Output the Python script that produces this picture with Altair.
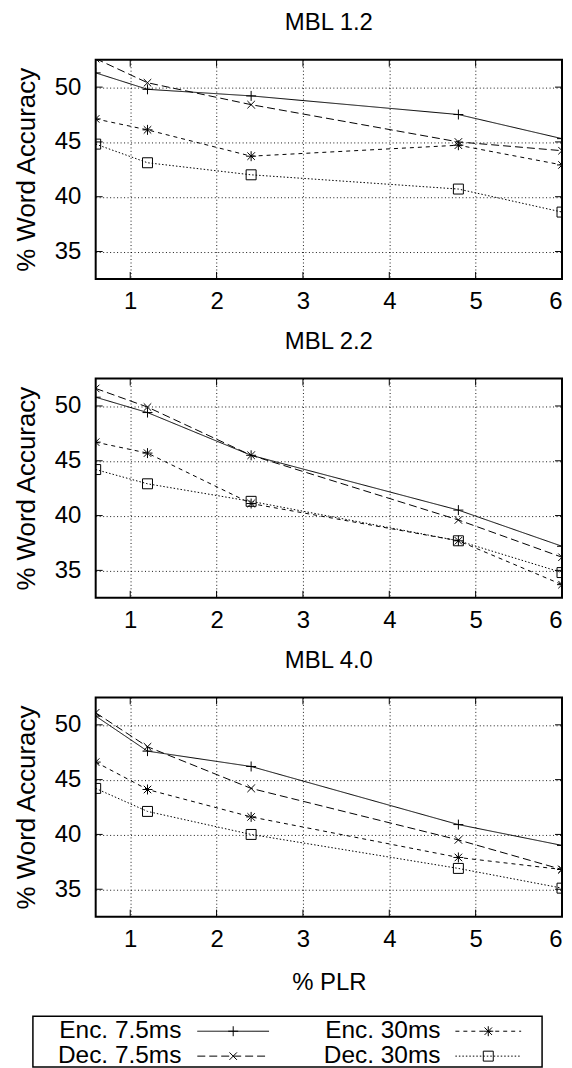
import altair as alt
import pandas as pd

# ---------------- data ----------------
plr = [0.6, 1.2, 2.4, 4.8, 6.0]
series_names = ["Enc. 7.5ms", "Dec. 7.5ms", "Enc. 30ms", "Dec. 30ms"]

mbl12_enc75 = [51.3, 49.8, 49.2, 47.5, 45.3]
mbl12_dec75 = [52.6, 50.4, 48.4, 45.0, 44.2]
mbl12_enc30 = [47.1, 46.1, 43.7, 44.7, 42.9]
mbl12_dec30 = [44.8, 43.1, 42.0, 40.7, 38.6]

mbl22_enc75 = [50.8, 49.4, 45.5, 40.5, 37.2]
mbl22_dec75 = [51.6, 49.9, 45.5, 39.6, 36.2]
mbl22_enc30 = [46.7, 45.7, 41.1, 37.7, 33.7]
mbl22_dec30 = [44.2, 42.9, 41.3, 37.7, 34.8]

mbl40_enc75 = [50.8, 47.6, 46.2, 40.9, 39.0]
mbl40_dec75 = [51.1, 48.0, 44.2, 39.5, 36.8]
mbl40_enc30 = [46.6, 44.1, 41.6, 37.9, 36.8]
mbl40_dec30 = [44.2, 42.1, 40.0, 36.9, 35.1]

panel_titles = ["MBL 1.2", "MBL 2.2", "MBL 4.0"]
x_ticks = [1, 2, 3, 4, 5, 6]
y_ticks = [35, 40, 45, 50]
x_domain = [0.6, 6.0]
y_domain = [32.5, 52.5]

# ---------------- styles ----------------
FONT = "Liberation Sans"
FS = 24
W, H = 468, 220
dashes = [[1, 0], [8, 4], [4, 4], [1.5, 2]]
plus_path = "M-1,0L1,0M0,-1L0,1"
x_path = "M-0.75,-0.75L0.75,0.75M-0.75,0.75L0.75,-0.75"
star_path = "M-1,0L1,0M0,-1L0,1M-0.75,-0.75L0.75,0.75M-0.75,0.75L0.75,-0.75"
shapes = [plus_path, x_path, star_path, "square"]
TICK = 7


def panel(title, vals, show_xtitle):
    rows = []
    for s, arr in zip(series_names, vals):
        for x, v in zip(plr, arr):
            rows.append({"plr": x, "acc": v, "series": s})
    df = pd.DataFrame(rows)

    xs = alt.Scale(domain=x_domain, nice=False, zero=False)
    ys = alt.Scale(domain=y_domain, nice=False, zero=False)
    x_axis = alt.Axis(values=x_ticks, format="d", labelPadding=11, labelFlush=True,
                      title="% PLR" if show_xtitle else None, titlePadding=19)
    y_axis = alt.Axis(values=y_ticks, labelPadding=15, labelFlush=False,
                      title="% Word Accuracy", titlePadding=15, titleFontSize=26)
    x_enc = alt.X("plr:Q", scale=xs, axis=x_axis)
    y_enc = alt.Y("acc:Q", scale=ys, axis=y_axis)

    base = alt.Chart(df)
    lines = base.mark_line(color="black", strokeWidth=1, clip=True).encode(
        x=x_enc, y=y_enc,
        strokeDash=alt.StrokeDash("series:N", scale=alt.Scale(domain=series_names, range=dashes), legend=None),
    )
    points = base.mark_point(filled=False, color="black", strokeWidth=1, size=100,
                             opacity=1, clip=True).encode(
        x=x_enc, y=y_enc,
        shape=alt.Shape("series:N", scale=alt.Scale(domain=series_names, range=shapes), legend=None),
    )

    xt = alt.Chart(pd.DataFrame({"plr": x_ticks}))
    yt = alt.Chart(pd.DataFrame({"acc": y_ticks}))
    tick_top = xt.mark_rule(color="black", strokeWidth=1).encode(x=x_enc, y=alt.value(0), y2=alt.value(TICK))
    tick_bot = xt.mark_rule(color="black", strokeWidth=1).encode(x=x_enc, y=alt.value(H), y2=alt.value(H - TICK))
    tick_l = yt.mark_rule(color="black", strokeWidth=1).encode(y=y_enc, x=alt.value(0), x2=alt.value(TICK))
    tick_r = yt.mark_rule(color="black", strokeWidth=1).encode(y=y_enc, x=alt.value(W), x2=alt.value(W - TICK))

    return alt.layer(lines, points, tick_top, tick_bot, tick_l, tick_r).properties(
        width=W, height=H,
        title=alt.TitleParams(title, fontSize=FS, fontWeight="normal", font=FONT,
                              color="black", offset=0, baseline="bottom"),
    )


p1 = panel(panel_titles[0], [mbl12_enc75, mbl12_dec75, mbl12_enc30, mbl12_dec30], False)
p2 = panel(panel_titles[1], [mbl22_enc75, mbl22_dec75, mbl22_enc30, mbl22_dec30], False)
p3 = panel(panel_titles[2], [mbl40_enc75, mbl40_dec75, mbl40_enc30, mbl40_dec30], True)

# ---------------- legend (key box) ----------------
LH = 51
LFS = 24.5
leg_layers = []
one = pd.DataFrame({"k": [0]})
leg_layers.append(
    alt.Chart(one).mark_rect(fillOpacity=0, stroke="black", strokeWidth=1.5).encode(
        x=alt.value(-63), x2=alt.value(448), y=alt.value(0), y2=alt.value(LH)
    )
)
label_end = [86, 86, 346, 346]
sample_x = [(102, 174), (102, 174), (361, 427), (361, 427)]
row_y = [15, 40, 15, 40]
for i, s in enumerate(series_names):
    d = pd.DataFrame({"series": [s]})
    leg_layers.append(
        alt.Chart(d).mark_text(align="right", baseline="middle", fontSize=LFS, font=FONT, color="black").encode(
            text="series:N", x=alt.value(label_end[i]), y=alt.value(row_y[i])
        )
    )
    leg_layers.append(
        alt.Chart(d).mark_rule(color="black", strokeWidth=1).encode(
            x=alt.value(sample_x[i][0]), x2=alt.value(sample_x[i][1]), y=alt.value(row_y[i]),
            strokeDash=alt.value(dashes[i]),
        )
    )
    leg_layers.append(
        alt.Chart(d).mark_point(filled=False, color="black", strokeWidth=1, size=100, opacity=1).encode(
            x=alt.value((sample_x[i][0] + sample_x[i][1]) / 2), y=alt.value(row_y[i]),
            shape=alt.value(shapes[i]),
        )
    )
legend = alt.layer(*leg_layers).properties(width=W, height=LH, view=alt.ViewBackground(strokeOpacity=0))

chart = alt.vconcat(p1, p2, p3, legend, spacing=100, bounds="flush").properties(
    padding={"left": 4, "top": 0, "right": 0, "bottom": 0}
).configure(font=FONT).configure_axis(
    domain=False, ticks=False, tickSize=0, grid=True, gridColor="black", gridDash=[1, 2.5],
    gridWidth=1, gridOpacity=0.9, labelFontSize=FS, labelColor="black", labelFont=FONT,
    titleFontSize=FS, titleFontWeight="normal", titleColor="black", titleFont=FONT,
).configure_view(stroke="black", strokeWidth=2)

chart.save("out.html", embed_options={"renderer": "svg", "actions": False})
